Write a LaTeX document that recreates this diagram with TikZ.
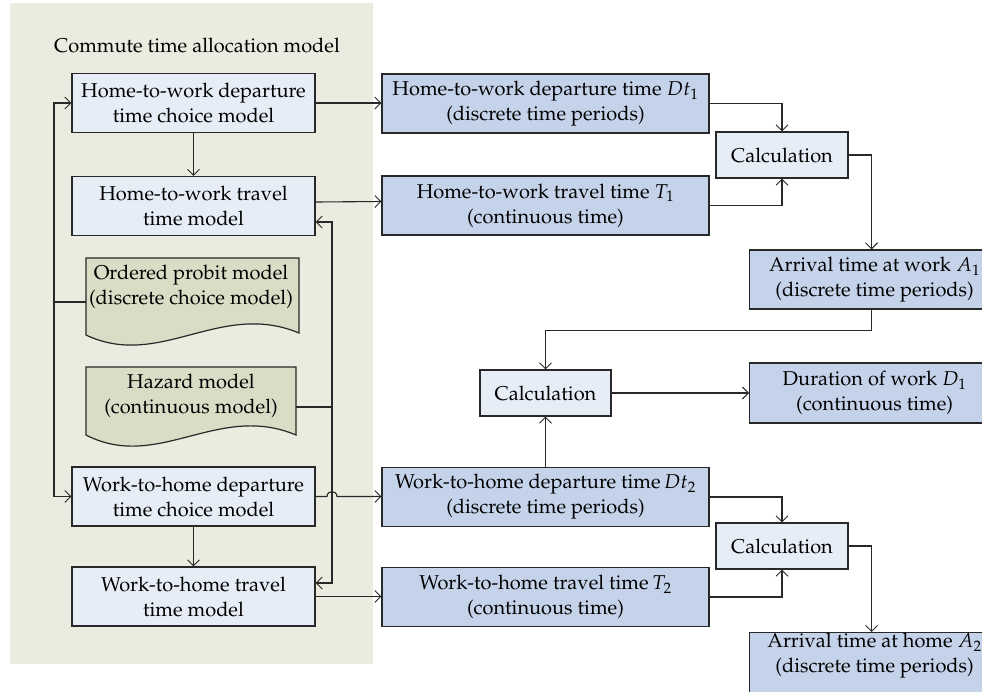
\documentclass[tikz,border=0pt]{standalone}
\usepackage[T1]{fontenc}
\usepackage{mathpazo}
\usetikzlibrary{arrows.meta}
\definecolor{bggreen}{RGB}{233,236,222}
\definecolor{lightblue}{RGB}{230,237,246}
\definecolor{darkblue}{RGB}{196,211,234}
\definecolor{docgreen}{RGB}{216,222,198}
\definecolor{linec}{RGB}{40,40,40}
\newcommand\dfont{\fontsize{20}{25}\selectfont}
\begin{document}
\begin{tikzpicture}[x=1pt,y=-1pt,
  lbox/.style={draw=linec, fill=lightblue, line width=1.2pt, minimum width=243pt, minimum height=59pt, align=center, inner sep=0pt, font=\dfont},
  rbox/.style={draw=linec, fill=darkblue, line width=1.2pt, minimum width=327pt, minimum height=59pt, align=center, inner sep=0pt, font=\dfont},
  cbox/.style={draw=linec, fill=lightblue, line width=1.2pt, minimum width=132pt, minimum height=46pt, align=center, inner sep=0pt, font=\dfont},
  ebox/.style={draw=linec, fill=darkblue, line width=1.2pt, minimum width=250pt, minimum height=59pt, align=center, inner sep=0pt, font=\dfont},
  docshape/.style={draw=linec, fill=docgreen, line width=1.2pt},
  conn/.style={draw=linec, line width=1.1pt},
  arr/.style={conn, -{Straight Barb[length=6pt,width=12pt,line width=0.9pt]}},
  lbl/.style={align=center, font=\dfont, inner sep=0pt}]
\useasboundingbox (0,0) rectangle (982,691);
\clip (0,0) rectangle (982,691);
\fill[white] (0,0) rectangle (982,691);
\fill[bggreen] (10,3) rectangle (373,664);

\node[lbl] (title) at (197,45) {Commute time allocation model};

% left column
\node[lbox] (A) at (193.5,103) {Home-to-work departure\\time choice model};
\node[lbox] (B) at (193.5,206) {Home-to-work travel\\time model};
\node[lbox] (C) at (193.5,496.5) {Work-to-home departure\\time choice model};
\node[lbox] (D) at (193.5,596.5) {Work-to-home travel\\time model};

% document shapes
\draw[docshape] (86,258) -- (299,258) -- (299,333) .. controls (220,300) and (160,370) .. (86,335) -- cycle;
\node[lbl] (optext) at (191,287) {Ordered probit model\\(discrete choice model)};
\draw[docshape] (86,367) -- (296,367) -- (296,435) .. controls (218,402) and (158,472) .. (86,435) -- cycle;
\node[lbl] (hztext) at (191,396) {Hazard model\\(continuous model)};
\coordinate (op) at (86,302);
\coordinate (hz) at (296,407);
\coordinate (lbus) at (54,302);
\coordinate (rbus) at (332,407);

% middle column
\node[rbox] (Dt1) at (545.5,103.5) {Home-to-work departure time $Dt_1$\\(discrete time periods)};
\node[rbox] (T1) at (545.5,205.5) {Home-to-work travel time $T_1$\\(continuous time)};
\node[rbox] (Dt2) at (545.5,497) {Work-to-home departure time\,$Dt_2$\\(discrete time periods)};
\node[rbox] (T2) at (545.5,597) {Work-to-home travel time\,$T_2$\\(continuous time)};

\node[cbox] (calc1) at (782,155) {Calculation};
\node[cbox, minimum width=131pt] (calc2) at (545.5,393) {Calculation};
\node[cbox] (calc3) at (782,546) {Calculation};

\node[ebox, anchor=west] (A1) at (749,279.5) {Arrival time at work $A_1$\\(discrete time periods)};
\node[ebox, anchor=west, minimum height=60pt] (Dur) at (749,393) {Duration of work $D_1$\\(continuous time)};
\node[ebox, anchor=north west, minimum height=70pt] (A2) at (749,632) {};
\node[lbl, anchor=north] (A2text) at ([yshift=-1pt]A2.north) {Arrival time at home $A_2$\\(discrete time periods)};

% connectors left
\draw[arr] (A) -- (B);
\draw[arr] (C) -- (D);
\draw[conn] (op) -- (lbus);
\draw[arr] (lbus) |- (A.west);
\draw[arr] (lbus) |- (C.west);
\draw[conn] (hz) -- (rbus);
\draw[arr] (rbus) |- ([yshift=-16pt]B.east);
\draw[arr] (rbus) |- ([yshift=13.5pt]D.east);

% to middle column
\draw[arr] (A.east) -- (Dt1.west |- A.east);
\draw[arr] ([yshift=4pt]B.east) -- ([yshift=4pt]T1.west);
\draw[arr] (C.east) -- (327,496.5) .. controls (327,490) and (337,490) .. (337,496.5) -- (Dt2.west |- C.east);
\draw[arr] (D.east) -- (T2.west |- D.east);

% right side
\draw[arr] (Dt1.east) -| (calc1.north);
\draw[arr] (T1.east) -| (calc1.south);
\draw[arr] (calc1.east) -| ([xshift=-3pt]A1.north);
\draw[arr] ([xshift=-3pt]A1.south) -- ++(0,21) -| (calc2.north);
\draw[arr] (Dt2.north) -- (calc2.south);
\draw[arr] (calc2.east) -- (Dur.west);
\draw[arr] (Dt2.east) -| (calc3.north);
\draw[arr] (T2.east) -| (calc3.south);
\draw[arr] (calc3.east) -| ([xshift=-3pt]A2.north);
\end{tikzpicture}
\end{document}
